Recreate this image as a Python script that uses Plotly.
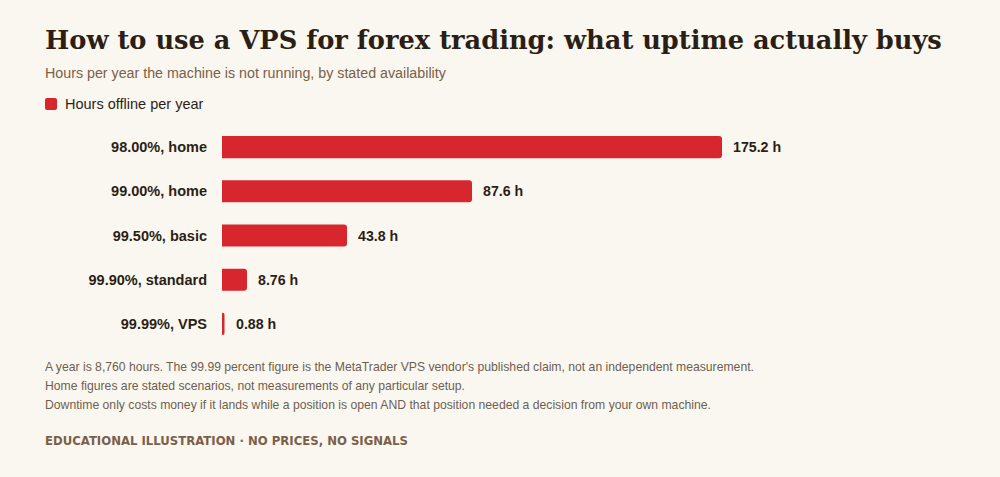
import plotly.graph_objects as go

categories = ["98.00%, home", "99.00%, home", "99.50%, basic", "99.90%, standard", "99.99%, VPS"]
hours_offline = [175.2, 87.6, 43.8, 8.76, 0.88]
value_labels = ["175.2 h", "87.6 h", "43.8 h", "8.76 h", "0.88 h"]

title_text = "How to use a VPS for forex trading: what uptime actually buys"
subtitle_text = "Hours per year the machine is not running, by stated availability"
legend_text = "Hours offline per year"
notes = [
    "A year is 8,760 hours. The 99.99 percent figure is the MetaTrader VPS vendor's published claim, not an independent measurement.",
    "Home figures are stated scenarios, not measurements of any particular setup.",
    "Downtime only costs money if it lands while a position is open AND that position needed a decision from your own machine.",
]
footer_text = "EDUCATIONAL ILLUSTRATION · NO PRICES, NO SIGNALS"

BG = "#faf7f1"
RED = "#d7262e"
DARK = "#2b1f15"
BROWN = "#7a6048"
NOTE = "#6e5f50"
SANS = "Liberation Sans, Arial, sans-serif"

W, H = 1000, 477
L, R, T, B = 222, 45, 125, 131
pw = W - L - R
ph = H - T - B

def px(x):
    return (x - L) / pw

def py(y):
    return 1 - (y - T) / ph

fig = go.Figure()
fig.add_trace(go.Bar(
    x=hours_offline,
    y=categories,
    orientation="h",
    name=legend_text,
    marker=dict(color=RED, cornerradius=3, line=dict(width=0)),
    hoverinfo="skip",
))

annotations = [
    dict(text=f"<b>{title_text}</b>", x=px(43), y=py(40), xref="paper", yref="paper",
         xanchor="left", yanchor="middle", showarrow=False,
         font=dict(family="DejaVu Serif, serif", size=25.7, color=DARK)),
    dict(text=subtitle_text, x=px(43), y=py(73), xref="paper", yref="paper",
         xanchor="left", yanchor="middle", showarrow=False,
         font=dict(family=SANS, size=14.25, color=BROWN)),
    dict(text=legend_text, x=px(63), y=py(104), xref="paper", yref="paper",
         xanchor="left", yanchor="middle", showarrow=False,
         font=dict(family=SANS, size=14.5, color=DARK)),
]
for cat, val, lab in zip(categories, hours_offline, value_labels):
    annotations.append(dict(text=f"<b>{lab}</b>", x=val, y=cat, xref="x", yref="y",
                            xanchor="left", yanchor="middle", xshift=9, showarrow=False,
                            font=dict(family=SANS, size=14.2, color=DARK)))
for i, line in enumerate(notes):
    annotations.append(dict(text=line, x=px(43), y=py(367 + 19 * i), xref="paper", yref="paper",
                            xanchor="left", yanchor="middle", showarrow=False,
                            font=dict(family=SANS, size=12.2, color=NOTE)))
annotations.append(dict(text=f"<b>{footer_text}</b>", x=px(43), y=py(441), xref="paper", yref="paper",
                        xanchor="left", yanchor="middle", showarrow=False,
                        font=dict(family="DejaVu Sans, sans-serif", size=11.7, color=BROWN)))

# legend swatch (rounded square)
x0, x1 = px(45), px(57)
y0, y1 = py(110), py(98)
r = 2 / pw
ry = 2 / ph
path = (f"M {x0 + r},{y0} L {x1 - r},{y0} Q {x1},{y0} {x1},{y0 + ry} "
        f"L {x1},{y1 - ry} Q {x1},{y1} {x1 - r},{y1} L {x0 + r},{y1} "
        f"Q {x0},{y1} {x0},{y1 - ry} L {x0},{y0 + ry} Q {x0},{y0} {x0 + r},{y0} Z")

fig.update_layout(
    width=W, height=H,
    margin=dict(l=L, r=R, t=T, b=B),
    paper_bgcolor=BG, plot_bgcolor=BG,
    bargap=0.5,
    showlegend=False,
    xaxis=dict(range=[0, 175.2 * pw / 500], visible=False, fixedrange=True),
    yaxis=dict(autorange="reversed", showgrid=False, zeroline=False, showline=False,
               ticks="", ticklabelstandoff=14, fixedrange=True,
               tickfont=dict(family=SANS, size=14.5, color=DARK, weight="bold")),
    annotations=annotations,
    shapes=[dict(type="path", path=path, xref="paper", yref="paper",
                 fillcolor=RED, line=dict(width=0))],
    hovermode=False,
)

fig.write_html("out.html", config={"displayModeBar": False},
               post_script="document.body.style.margin='0';")
